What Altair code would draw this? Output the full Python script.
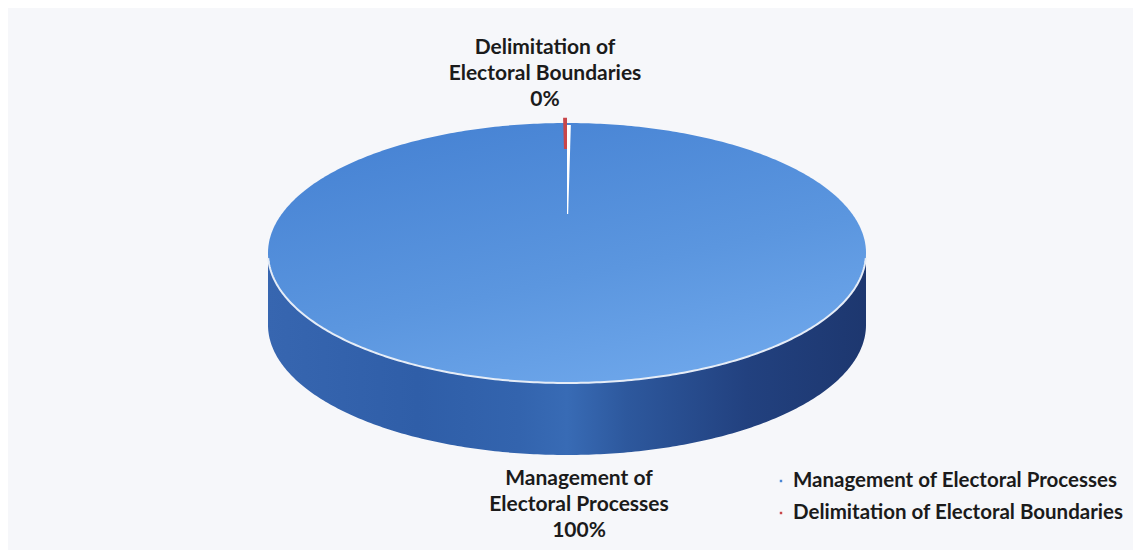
import numpy as np
import pandas as pd
import altair as alt

# ---- data ----
CATEGORIES = ["Management of Electoral Processes", "Delimitation of Electoral Boundaries"]
SHARES = [99.8, 0.2]
SLICE_COLORS = ["#4a86d5", "#c8464a"]

# ---- layout (view pixels) ----
W, H = 1125, 542
CX, CY = 559, 245          # pie centre
RX, RY = 299, 130          # ellipse radii of the top face
DEPTH = 72                 # thickness of the 3D pie
N = 240

total = sum(SHARES)
starts = np.cumsum([0] + SHARES[:-1]) / total * 360.0
ends = np.cumsum(SHARES) / total * 360.0


def ell(theta_deg, r=1.0):
    t = np.radians(theta_deg)
    return CX + RX * r * np.sin(t), CY - RY * r * np.cos(t)


xscale = alt.Scale(domain=[0, W], nice=False, zero=False)
yscale = alt.Scale(domain=[0, H], nice=False, zero=False, reverse=True)

# top face and side (whole disc)
tt = np.linspace(0, np.pi, N)
u = -np.cos(tt)
half = RY * np.sqrt(np.clip(1 - u ** 2, 0, 1))
xs = CX + RX * u
top_df = pd.DataFrame({"x": xs, "y": CY - half, "y2": CY + half})
side_df = pd.DataFrame({"x": xs, "y": CY + half, "y2": CY + half + DEPTH})
rim_df = pd.DataFrame({"x": xs[3:-3], "y": (CY + half)[3:-3]})

side_grad = alt.Gradient(
    gradient="linear", x1=0, y1=0, x2=1, y2=0,
    stops=[
        alt.GradientStop(offset=0.0, color="#3766b0"),
        alt.GradientStop(offset=0.25, color="#2f5ea8"),
        alt.GradientStop(offset=0.42, color="#3364ae"),
        alt.GradientStop(offset=0.5, color="#386bb5"),
        alt.GradientStop(offset=0.6, color="#2d589d"),
        alt.GradientStop(offset=0.8, color="#22417f"),
        alt.GradientStop(offset=1.0, color="#1d376f"),
    ],
)
top_grad = alt.Gradient(
    gradient="linear", x1=0.2, y1=0, x2=0.7, y2=1,
    stops=[
        alt.GradientStop(offset=0.0, color="#4682d3"),
        alt.GradientStop(offset=0.6, color="#5b96df"),
        alt.GradientStop(offset=1.0, color="#6ea7eb"),
    ],
)

side = alt.Chart(side_df).mark_area(color=side_grad).encode(
    x=alt.X("x:Q", scale=xscale, axis=None),
    y=alt.Y("y:Q", scale=yscale, axis=None),
    y2="y2:Q",
)
top = alt.Chart(top_df).mark_area(color=top_grad).encode(
    x=alt.X("x:Q", scale=xscale, axis=None),
    y=alt.Y("y:Q", scale=yscale, axis=None),
    y2="y2:Q",
)
rim = alt.Chart(rim_df).mark_line(color="#e6edf7", strokeWidth=2).encode(
    x=alt.X("x:Q", scale=xscale, axis=None),
    y=alt.Y("y:Q", scale=yscale, axis=None),
)

# white gap at the slice boundary (angle 0) and the small red slice
gap_a0, gap_a1 = 0.0, 0.75
g_rows = []
for r in (0.3, 0.985):
    x0, y0 = ell(gap_a0, r)
    x1, _ = ell(gap_a1, r)
    g_rows.append({"y": y0, "x": min(x0, x1), "x2": max(x0, x1)})
gap_df = pd.DataFrame(g_rows)

s0, s1 = starts[1], ends[1]
r_rows = []
for r in (0.8, 1.04):
    xa, ya = ell(s0, r)
    xb, _ = ell(s1, r)
    r_rows.append({"y": ya, "x": min(xa, xb), "x2": max(xa, xb)})
red_df = pd.DataFrame(r_rows)

gap = alt.Chart(gap_df).mark_area(orient="horizontal", color="#ffffff").encode(
    y=alt.Y("y:Q", scale=yscale, axis=None),
    x=alt.X("x:Q", scale=xscale, axis=None),
    x2="x2:Q",
)
red = alt.Chart(red_df).mark_area(orient="horizontal", color=SLICE_COLORS[1]).encode(
    y=alt.Y("y:Q", scale=yscale, axis=None),
    x=alt.X("x:Q", scale=xscale, axis=None),
    x2="x2:Q",
)

# data labels (y = centre of the first line)
LABEL_DX = [12, -22]
lab_rows = []
for i, (c, s) in enumerate(zip(CATEGORIES, SHARES)):
    mid = (starts[i] + ends[i]) / 2
    above = np.cos(np.radians(mid)) > 0
    ly = CY - RY - 75 if above else CY + RY + DEPTH + 24
    lab_rows.append({
        "text": c.replace(" of ", " of\n") + f"\n{round(s / total * 100)}%",
        "x": CX + LABEL_DX[i],
        "y": ly,
    })
lab_df = pd.DataFrame(lab_rows)
labels = alt.Chart(lab_df).mark_text(
    lineBreak="\n", align="center", baseline="middle", font="Lato",
    fontSize=21, fontWeight="bold", color="#1b1b1b", lineHeight=26,
).encode(
    x=alt.X("x:Q", scale=xscale, axis=None),
    y=alt.Y("y:Q", scale=yscale, axis=None),
    text="text:N",
)

# legend
LEG_X, LEG_Y, LEG_DY = 773, 473, 32
leg_df = pd.DataFrame({
    "category": CATEGORIES,
    "x": [LEG_X] * len(CATEGORIES),
    "tx": [LEG_X + 12] * len(CATEGORIES),
    "y": [LEG_Y + i * LEG_DY for i in range(len(CATEGORIES))],
})
color_enc = alt.Color("category:N", scale=alt.Scale(domain=CATEGORIES, range=SLICE_COLORS), legend=None)
leg_sym = alt.Chart(leg_df).mark_square(size=6, opacity=1).encode(
    x=alt.X("x:Q", scale=xscale, axis=None),
    y=alt.Y("y:Q", scale=yscale, axis=None),
    color=color_enc,
)
leg_txt = alt.Chart(leg_df).mark_text(
    align="left", baseline="middle", font="Lato", fontSize=20.5,
    fontWeight="bold", color="#1b1b1b",
).encode(
    x=alt.X("tx:Q", scale=xscale, axis=None),
    y=alt.Y("y:Q", scale=yscale, axis=None),
    text="category:N",
)

chart = alt.layer(side, top, rim, gap, red, labels, leg_sym, leg_txt).properties(
    width=W, height=H, padding=0, autosize="none", background="#f6f7fa",
).configure_view(stroke=None)

chart.save("out.html", embed_options={"renderer": "svg", "actions": False})
